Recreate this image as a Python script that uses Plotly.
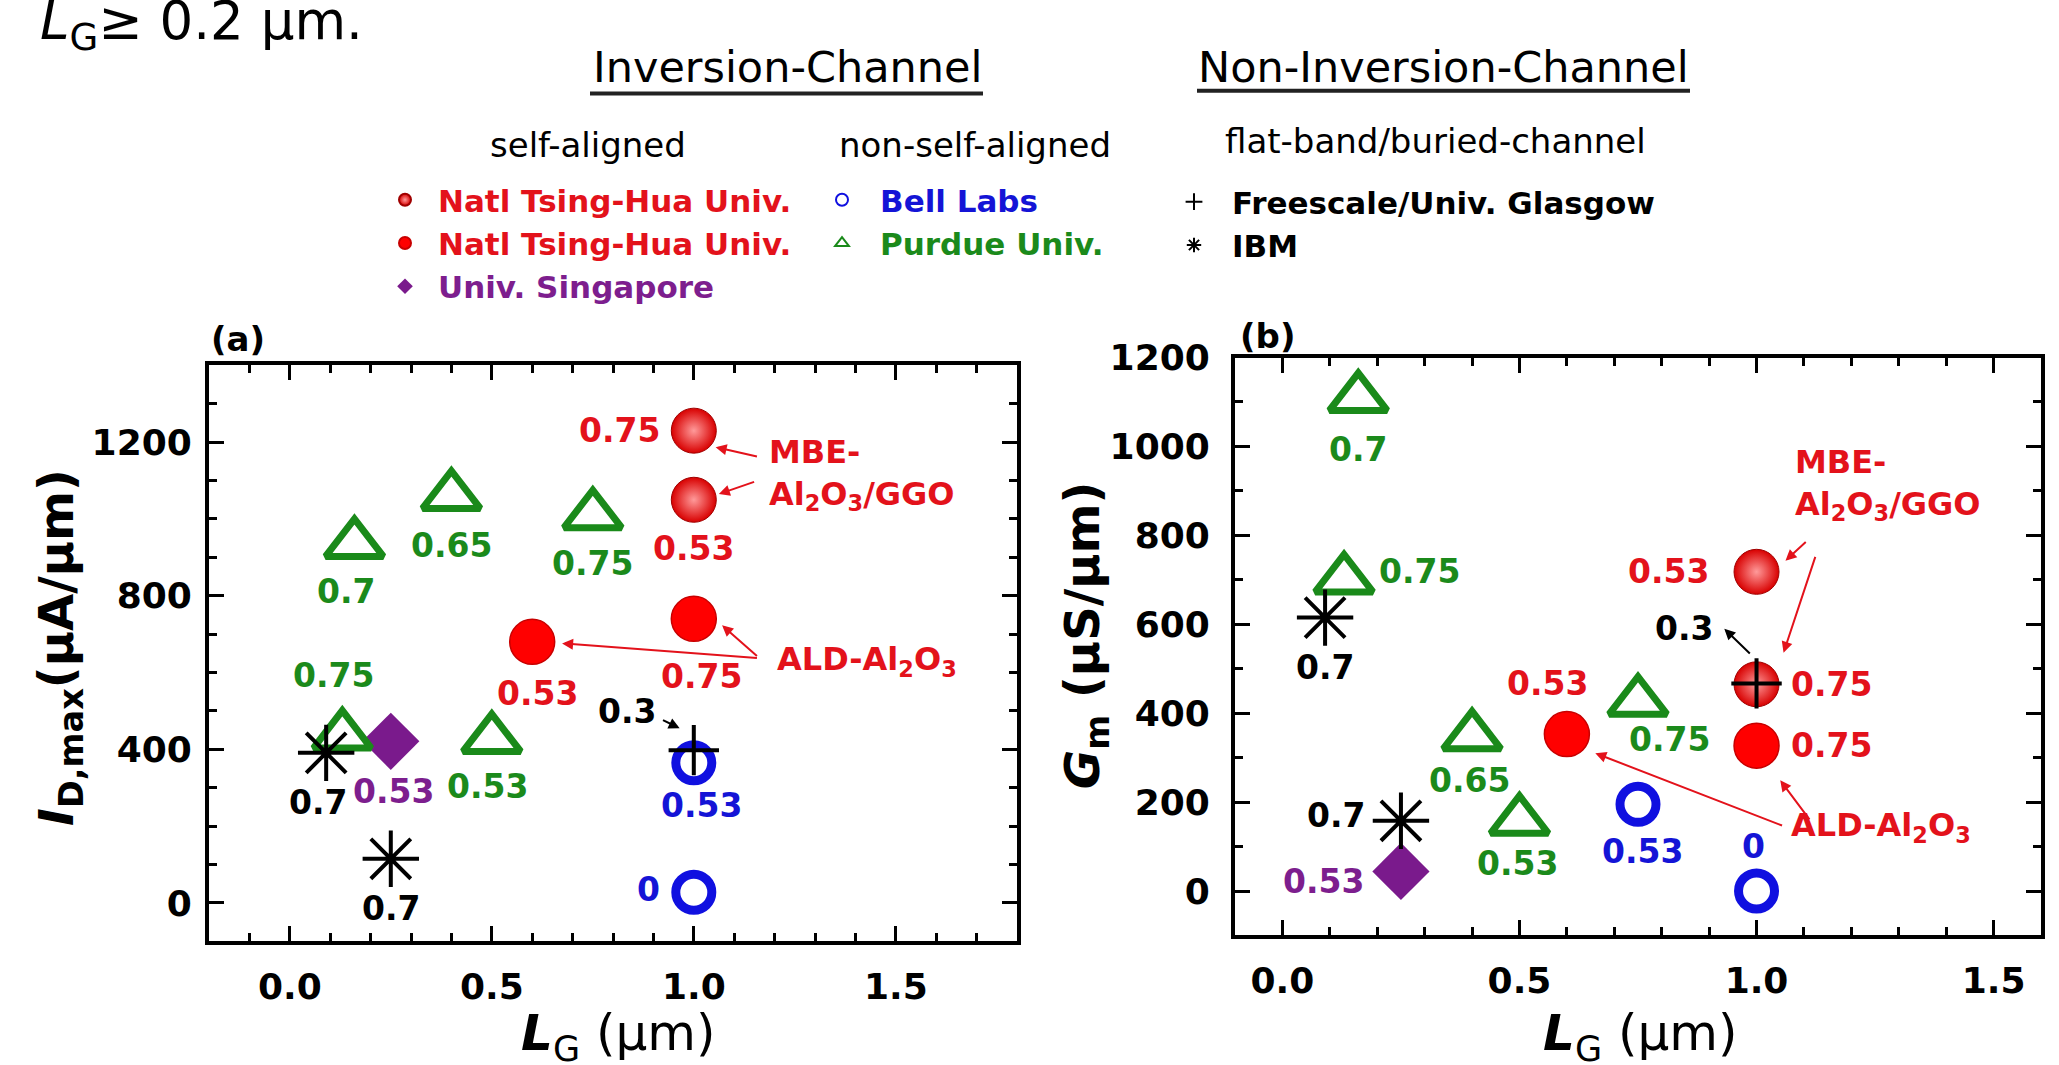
import plotly.graph_objects as go

W, H = 2059, 1065
FONT = "DejaVu Sans"
RED, GREEN, BLUE, PURPLE, BLACK = "#e3121b", "#1b8a1b", "#1414d6", "#7d1e8e", "#000000"

# ---------------- data ----------------
# L_G: gate length (um); I_D,max (uA/um) for panel (a); G_m (uS/um) for panel (b);
# *_in_*: In content of the InGaAs channel printed beside each point.

# Natl Tsing-Hua Univ., MBE-Al2O3/GGO, self-aligned
nthu_mbe_lg_a = [1.0, 1.0]
nthu_mbe_id = [1230, 1050]
nthu_mbe_in_a = ["0.75", "0.53"]
nthu_mbe_lg_b = [1.0, 1.0]
nthu_mbe_gm = [718, 465]
nthu_mbe_in_b = ["0.53", "0.75"]

# Natl Tsing-Hua Univ., ALD-Al2O3, self-aligned
nthu_ald_lg_a = [0.6, 1.0]
nthu_ald_id = [680, 740]
nthu_ald_in_a = ["0.53", "0.75"]
nthu_ald_lg_b = [0.6, 1.0]
nthu_ald_gm = [353, 327]
nthu_ald_in_b = ["0.53", "0.75"]

# Univ. Singapore, self-aligned
nus_lg_a = [0.25]
nus_id = [421]
nus_in_a = ["0.53"]
nus_lg_b = [0.25]
nus_gm = [44]
nus_in_b = ["0.53"]

# Bell Labs, non-self-aligned
bell_lg_a = [1.0, 1.0]
bell_id = [365, 28]
bell_in_a = ["0.53", "0"]
bell_lg_b = [0.75, 1.0]
bell_gm = [195, 0]
bell_in_b = ["0.53", "0"]

# Purdue Univ., non-self-aligned
purdue_lg_a = [0.16, 0.40, 0.75, 0.13, 0.50]
purdue_id = [935, 1060, 1010, 436, 427]
purdue_in_a = ["0.7", "0.65", "0.75", "0.75", "0.53"]
purdue_lg_b = [0.16, 0.13, 0.40, 0.50, 0.75]
purdue_gm = [1109, 701, 348, 158, 426]
purdue_in_b = ["0.7", "0.75", "0.65", "0.53", "0.75"]

# Freescale/Univ. Glasgow, flat-band
fsl_lg_a = [1.0]
fsl_id = [398]
fsl_in_a = ["0.3"]
fsl_lg_b = [1.0]
fsl_gm = [467]
fsl_in_b = ["0.3"]

# IBM, buried channel
ibm_lg_a = [0.09, 0.25]
ibm_id = [391, 115]
ibm_in_a = ["0.7", "0.7"]
ibm_lg_b = [0.09, 0.25]
ibm_gm = [615, 158]
ibm_in_b = ["0.7", "0.7"]

# ---------------- styling ----------------
# label offsets (px right, px down) from each point, per panel
label_off = {
    "mbe": {"a": [(-74, 0), (0, 49)], "b": [(-88, 0), (75, 0)]},
    "ald": {"a": [(5, 52), (8, 58)], "b": [(-19, -51), (75, 0)]},
    "nus": {"a": [(3, 50)], "b": [(-77, 10)]},
    "bell": {"a": [(8, 43), (-45, -3)], "b": [(4, 47), (-3, -45)]},
    "purdue": {"a": [(-8, 48), (0, 50), (0, 48), (-9, -60), (-4, 47)],
               "b": [(0, 52), (75, -8), (-3, 44), (-2, 43), (31, 38)]},
    "fsl": {"a": [(-67, -39)], "b": [(-73, -55)]},
    "ibm": {"a": [(-8, 50), (0, 50)], "b": [(0, 50), (-65, -5)]},
}

series = [
    dict(key="mbe", name="Natl Tsing-Hua Univ.", color=RED, legend="legend",
         a=(nthu_mbe_lg_a, nthu_mbe_id, nthu_mbe_in_a), b=(nthu_mbe_lg_b, nthu_mbe_gm, nthu_mbe_in_b),
         marker=dict(symbol="circle", size=45, color="#d80000",
                     gradient=dict(type="radial", color="#ff9a9a"),
                     line=dict(width=1, color="#a00000"))),
    dict(key="ald", name="Natl Tsing-Hua Univ.", color=RED, legend="legend",
         a=(nthu_ald_lg_a, nthu_ald_id, nthu_ald_in_a), b=(nthu_ald_lg_b, nthu_ald_gm, nthu_ald_in_b),
         marker=dict(symbol="circle", size=45, color="#ff0000", line=dict(width=1.5, color="#c80000"))),
    dict(key="nus", name="Univ. Singapore", color=PURPLE, legend="legend",
         a=(nus_lg_a, nus_id, nus_in_a), b=(nus_lg_b, nus_gm, nus_in_b),
         marker=dict(symbol="diamond", size=44, color="#7a1a8c", line=dict(width=0))),
    dict(key="bell", name="Bell Labs", color=BLUE, legend="legend2",
         a=(bell_lg_a, bell_id, bell_in_a), b=(bell_lg_b, bell_gm, bell_in_b),
         marker=dict(symbol="circle-open", size=36, color="#1010e0", line=dict(width=9))),
    dict(key="purdue", name="Purdue Univ.", color=GREEN, legend="legend2",
         a=(purdue_lg_a, purdue_id, purdue_in_a), b=(purdue_lg_b, purdue_gm, purdue_in_b),
         marker=dict(symbol="triangle-up-open", size=50, color="#1a8a1a", line=dict(width=7))),
    dict(key="fsl", name="Freescale/Univ. Glasgow", color=BLACK, legend="legend3",
         a=(fsl_lg_a, fsl_id, fsl_in_a), b=(fsl_lg_b, fsl_gm, fsl_in_b),
         marker=dict(symbol="cross-thin-open", size=36, color="black", line=dict(width=4))),
    dict(key="ibm", name="IBM", color=BLACK, legend="legend3",
         a=(ibm_lg_a, ibm_id, ibm_in_a), b=(ibm_lg_b, ibm_gm, ibm_in_b),
         marker=dict(symbol="asterisk-open", size=47, color="black", line=dict(width=4))),
]

# draw order: filled symbols first, crosses on top
draw_order = ["mbe", "ald", "nus", "bell", "purdue", "ibm", "fsl"]
legend_order = ["mbe", "ald", "nus", "bell", "purdue", "fsl", "ibm"]

fig = go.Figure()
annotations = []

by_key = {s["key"]: s for s in series}
for key in draw_order:
    s = by_key[key]
    for panel, xr, yr in (("a", "x", "y"), ("b", "x2", "y2")):
        xs, ys, labs = s[panel]
        fig.add_trace(go.Scatter(
            x=xs, y=ys, mode="markers", xaxis=xr, yaxis=yr,
            name=f"<span style='color:{s['color']}'>{s['name']}</span>",
            legend=s["legend"], showlegend=(panel == "a"),
            legendrank=legend_order.index(key) + 1,
            marker=s["marker"], hoverinfo="skip", cliponaxis=False))
        for (xv, yv, lab), (dx, dy) in zip(zip(xs, ys, labs), label_off[key][panel]):
            annotations.append(dict(
                xref=xr, yref=yr, x=xv, y=yv, text=lab, showarrow=False,
                xshift=dx, yshift=-dy,
                font=dict(family=FONT, size=33, color=s["color"], weight="bold")))

# oxide call-outs
callout_font = dict(family=FONT, size=32, color=RED, weight="bold")
mbe_text = "MBE-<br>Al<sub>2</sub>O<sub>3</sub>/GGO"
ald_text = "ALD-Al<sub>2</sub>O<sub>3</sub>"
annotations += [
    dict(xref="x", yref="y", x=1.18, y=1116, text=mbe_text, align="left", xanchor="left",
         showarrow=False, font=callout_font),
    dict(xref="x", yref="y", x=1.20, y=631, text=ald_text, xanchor="left",
         showarrow=False, font=callout_font),
    dict(xref="x2", yref="y2", x=1.076, y=915, text=mbe_text, align="left", xanchor="left",
         showarrow=False, font=callout_font),
    dict(xref="x2", yref="y2", x=1.068, y=144, text=ald_text, xanchor="left",
         showarrow=False, font=callout_font),
]

# pointer arrows: (axes, tail, head, colour)
pointers = [
    ("", (1.16, 1162), (1.054, 1187), RED),
    ("", (1.153, 1098), (1.062, 1065), RED),
    ("", (1.16, 638), (0.674, 676), RED),
    ("", (1.16, 640), (1.07, 723), RED),
    ("", (0.92, 478), (0.965, 455), BLACK),
    ("2", (1.107, 788), (1.061, 743), RED),
    ("2", (1.125, 755), (1.057, 536), RED),
    ("2", (1.057, 146), (0.66, 310), RED),
    ("2", (1.114, 158), (1.05, 249), RED),
    ("2", (0.989, 531), (0.932, 590), BLACK),
]
for ax_id, (tx, ty), (hx, hy), col in pointers:
    annotations.append(dict(
        xref="x" + ax_id, yref="y" + ax_id, axref="x" + ax_id, ayref="y" + ax_id,
        x=hx, y=hy, ax=tx, ay=ty, text="", showarrow=True,
        arrowhead=2, arrowsize=1.1, arrowwidth=2, arrowcolor=col, standoff=0))


def px(xp, yp):
    return xp / W, 1 - yp / H


# headings, panel tags and axis titles (paper coordinates)
def paper_text(xp, yp, text, size, weight="normal", xanchor="center", angle=0):
    x, y = px(xp, yp)
    return dict(xref="paper", yref="paper", x=x, y=y, text=text, showarrow=False,
                xanchor=xanchor, yanchor="middle", textangle=angle,
                font=dict(family=FONT, size=size, color="black", weight=weight))


annotations += [
    paper_text(38, 5, "<i>L</i><sub>G</sub>≥ 0.2 µm.", 53, xanchor="left"),
    paper_text(787, 48, "Inversion-Channel", 43),
    paper_text(1443, 48, "Non-Inversion-Channel", 43),
    paper_text(588, 127, "self-aligned", 34),
    paper_text(837, 127, "non-self-aligned", 34, xanchor="left"),
    paper_text(1435, 123, "flat-band/buried-channel", 34),
    paper_text(238, 325, "(a)", 34, weight="bold"),
    paper_text(1267, 322, "(b)", 34, weight="bold"),
    paper_text(618, 1036, "<b><i>L</i></b><sub>G</sub> (µm)", 50),
    paper_text(1640, 1036, "<b><i>L</i></b><sub>G</sub> (µm)", 50),
    paper_text(60, 640, "<i>I</i><sub>D,max</sub>(µA/µm)", 48, weight="bold", angle=-90),
    paper_text(1085, 627, "<i>G</i><sub>m</sub> (µS/µm)", 48, weight="bold", angle=-90),
]

shapes = []
for x0, x1, yp in ((590, 983, 75), (1197, 1690, 72)):
    shapes.append(dict(type="line", xref="paper", yref="paper",
                       x0=x0 / W, x1=x1 / W, y0=1 - yp / H, y1=1 - yp / H,
                       line=dict(color="#222", width=4)))


def axis(rng, dtick, mdtick, domain, anchor, standoff, fmt=None):
    d = dict(range=rng, domain=domain, anchor=anchor, dtick=dtick, tick0=0,
             showline=True, linewidth=4, linecolor="black", mirror="allticks",
             ticks="inside", ticklen=15, tickwidth=3, tickcolor="black",
             minor=dict(dtick=mdtick, tick0=0, ticks="inside", ticklen=8,
                        tickwidth=2.5, tickcolor="black"),
             showgrid=False, zeroline=False, ticklabelstandoff=standoff,
             tickfont=dict(family=FONT, size=36, color="black", weight="bold"))
    if fmt:
        d["tickformat"] = fmt
    return d


ax_a = (209 / W, 1017 / W)
ay_a = (1 - 939 / H, 1 - 352 / H)
ax_b = (1235 / W, 2041 / W)
ay_b = (1 - 933 / H, 1 - 344 / H)

legend_common = dict(xanchor="left", yanchor="top", bgcolor="rgba(0,0,0,0)",
                     itemsizing="constant", traceorder="normal",
                     font=dict(family=FONT, size=31, weight="bold"))

fig.update_layout(
    width=W, height=H, autosize=False,
    margin=dict(l=0, r=0, t=0, b=0),
    paper_bgcolor="white", plot_bgcolor="white",
    xaxis=axis([-0.2, 1.8], 0.5, 0.1, ax_a, "y", 10, ".1f"),
    yaxis=axis([-100, 1400], 400, 100, ay_a, "x", 6),
    xaxis2=axis([-0.1, 1.6], 0.5, 0.1, ax_b, "y2", 10, ".1f"),
    yaxis2=axis([-100, 1200], 200, 100, ay_b, "x2", 14),
    legend=dict(x=372 / W, y=1 - 156 / H, itemwidth=56, **legend_common),
    legend2=dict(x=(842 - 38) / W, y=1 - 156 / H, itemwidth=66, **legend_common),
    legend3=dict(x=(1194 - 38) / W, y=1 - 158 / H, itemwidth=66, **legend_common),
    annotations=annotations,
    shapes=shapes,
)

fig.write_html("out.html")
